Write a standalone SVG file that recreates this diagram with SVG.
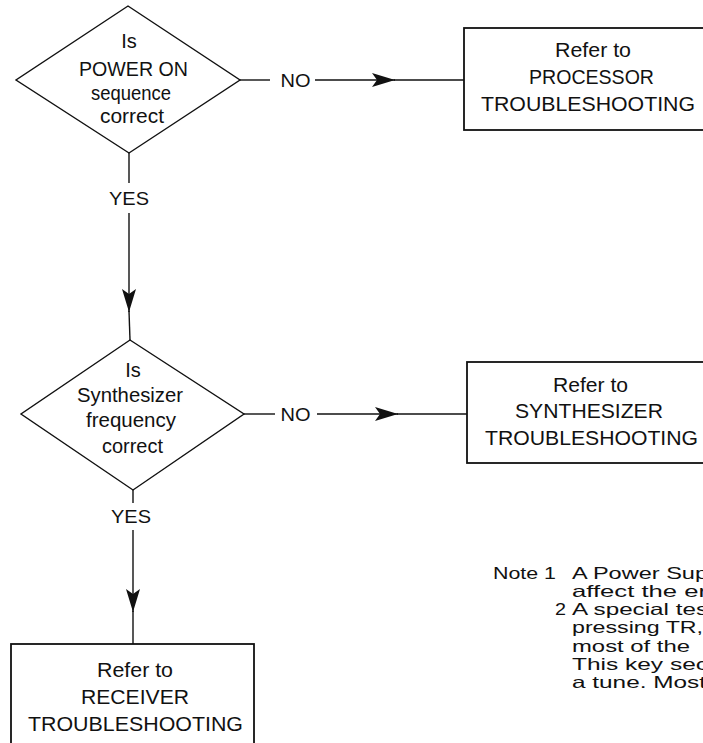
<svg xmlns="http://www.w3.org/2000/svg" width="703" height="743" viewBox="0 0 703 743">
  <defs>
    <style>
      text { font-family: "Liberation Sans", Arial, sans-serif; fill: #111; }
      .dtxt { font-size: 20px; text-anchor: middle; }
      .btxt { font-size: 21px; text-anchor: middle; }
      .lbl { font-size: 19px; text-anchor: middle; }
      .note { font-size: 16.5px; }
      .shape { fill: #fff; stroke: #111; stroke-width: 1.4; }
      .box { fill: #fff; stroke: #111; stroke-width: 1.8; }
      .wire { fill: none; stroke: #111; stroke-width: 1.4; }
    </style>
    <marker id="head" viewBox="-24 -8 25 16" refX="0" refY="0" markerWidth="25" markerHeight="16" markerUnits="userSpaceOnUse" orient="auto">
      <path d="M0,0 L-23,-7 L-18,0 L-23,7 Z" fill="#111"/>
    </marker>
  </defs>
  <rect width="703" height="743" fill="#fff"/>

  <!-- connectors -->
  <g id="connectors">
    <!-- decision 1, NO branch -->
    <line class="wire" x1="240" y1="80" x2="270" y2="80"/>
    <line class="wire" x1="315" y1="80" x2="395" y2="80" marker-end="url(#head)"/>
    <line class="wire" x1="394" y1="80" x2="464" y2="80"/>
    <text class="lbl" x="295.5" y="87" textLength="30" lengthAdjust="spacingAndGlyphs">NO</text>
    <!-- decision 1, YES branch -->
    <line class="wire" x1="129" y1="153" x2="129" y2="183"/>
    <line class="wire" x1="129" y1="213" x2="129" y2="312" marker-end="url(#head)"/>
    <line class="wire" x1="129" y1="311" x2="130" y2="340"/>
    <text class="lbl" x="129" y="205" textLength="40" lengthAdjust="spacingAndGlyphs">YES</text>
    <!-- decision 2, NO branch -->
    <line class="wire" x1="244" y1="414" x2="275" y2="414"/>
    <line class="wire" x1="317" y1="414" x2="398" y2="414" marker-end="url(#head)"/>
    <line class="wire" x1="397" y1="414" x2="467" y2="414"/>
    <text class="lbl" x="295.5" y="421" textLength="30" lengthAdjust="spacingAndGlyphs">NO</text>
    <!-- decision 2, YES branch -->
    <line class="wire" x1="133" y1="490" x2="133" y2="503"/>
    <line class="wire" x1="133" y1="530" x2="133" y2="612" marker-end="url(#head)"/>
    <line class="wire" x1="133" y1="611" x2="133" y2="644"/>
    <text class="lbl" x="131" y="523" textLength="40" lengthAdjust="spacingAndGlyphs">YES</text>
  </g>

  <!-- decision: power-on sequence -->
  <g id="power-on-check">
    <polygon class="shape" points="128,6 240,80 129,153 16,80"/>
    <text class="dtxt" x="129" y="48">Is</text>
    <text class="dtxt" x="133.5" y="76" textLength="109" lengthAdjust="spacingAndGlyphs">POWER ON</text>
    <text class="dtxt" x="131" y="100" textLength="80" lengthAdjust="spacingAndGlyphs">sequence</text>
    <text class="dtxt" x="132" y="123" textLength="64" lengthAdjust="spacingAndGlyphs">correct</text>
  </g>

  <!-- action: processor troubleshooting -->
  <g id="processor-box">
    <rect class="box" x="464" y="28" width="270" height="102"/>
    <text class="btxt" x="593" y="57" textLength="76" lengthAdjust="spacingAndGlyphs">Refer to</text>
    <text class="btxt" x="591.5" y="84" textLength="125" lengthAdjust="spacingAndGlyphs">PROCESSOR</text>
    <text class="btxt" x="588" y="111" textLength="214" lengthAdjust="spacingAndGlyphs">TROUBLESHOOTING</text>
  </g>

  <!-- decision: synthesizer frequency -->
  <g id="synth-check">
    <polygon class="shape" points="130,340 244,414 133,490 21,414"/>
    <text class="dtxt" x="133" y="377">Is</text>
    <text class="dtxt" x="130" y="402" textLength="106" lengthAdjust="spacingAndGlyphs">Synthesizer</text>
    <text class="dtxt" x="131" y="427" textLength="90" lengthAdjust="spacingAndGlyphs">frequency</text>
    <text class="dtxt" x="132.5" y="453" textLength="61" lengthAdjust="spacingAndGlyphs">correct</text>
  </g>

  <!-- action: synthesizer troubleshooting -->
  <g id="synth-box">
    <rect class="box" x="467" y="362" width="270" height="101"/>
    <text class="btxt" x="590.5" y="392" textLength="75" lengthAdjust="spacingAndGlyphs">Refer to</text>
    <text class="btxt" x="589" y="418" textLength="148" lengthAdjust="spacingAndGlyphs">SYNTHESIZER</text>
    <text class="btxt" x="591.5" y="445" textLength="213" lengthAdjust="spacingAndGlyphs">TROUBLESHOOTING</text>
  </g>

  <!-- action: receiver troubleshooting -->
  <g id="receiver-box">
    <rect class="box" x="11" y="644" width="243" height="130"/>
    <text class="btxt" x="135" y="677" textLength="76" lengthAdjust="spacingAndGlyphs">Refer to</text>
    <text class="btxt" x="135" y="704" textLength="108" lengthAdjust="spacingAndGlyphs">RECEIVER</text>
    <text class="btxt" x="135.5" y="731" textLength="215" lengthAdjust="spacingAndGlyphs">TROUBLESHOOTING</text>
  </g>

  <!-- notes -->
  <g id="notes">
    <text class="note" x="493" y="579" textLength="63" lengthAdjust="spacingAndGlyphs">Note 1</text>
    <text class="note" x="572" y="579" textLength="136" lengthAdjust="spacingAndGlyphs">A Power Sup</text>
    <text class="note" x="572" y="597" textLength="135" lengthAdjust="spacingAndGlyphs">affect the er</text>
    <text class="note" x="555" y="615" textLength="11" lengthAdjust="spacingAndGlyphs">2</text>
    <text class="note" x="572" y="615" textLength="136" lengthAdjust="spacingAndGlyphs">A special tes</text>
    <text class="note" x="572" y="633" textLength="131" lengthAdjust="spacingAndGlyphs">pressing TR,</text>
    <text class="note" x="572" y="652" textLength="118" lengthAdjust="spacingAndGlyphs">most of the</text>
    <text class="note" x="572" y="670" textLength="136" lengthAdjust="spacingAndGlyphs">This key sec</text>
    <text class="note" x="572" y="688" textLength="134" lengthAdjust="spacingAndGlyphs">a tune. Most</text>
  </g>
</svg>
